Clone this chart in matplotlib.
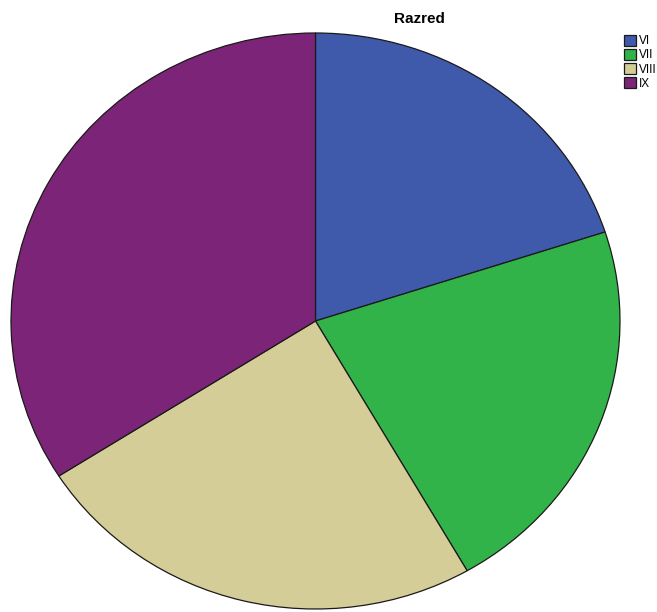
import matplotlib.pyplot as plt

# Razred - udio učenika po razredu
labels = ["VI", "VII", "VIII", "IX"]
counts = [47, 51, 57, 80]
colors = ["#3f59ab", "#31b34a", "#d5cd98", "#7b2478"]

fig = plt.figure(figsize=(6.57, 6.12), dpi=100)
W, H = 657, 612

# pie area (slightly squashed, like the export)
ax = fig.add_axes([11 / W, 3 / H, 609 / W, 576 / H])
wedges, _ = ax.pie(
    counts,
    colors=colors,
    startangle=90,
    counterclock=False,
    radius=1.0,
    wedgeprops=dict(edgecolor="#1a1a1a", linewidth=0.9),
)
ax.set_aspect("auto")
ax.set_xlim(-1.0, 1.0)
ax.set_ylim(-1.0, 1.0)
ax.axis("off")

fig.text(419 / W, 1 - 19 / H, "Razred", ha="center", va="center",
         fontsize=11, fontweight="bold", family="Liberation Sans")

leg = fig.legend(
    wedges, labels,
    loc="upper left",
    bbox_to_anchor=(624 / W, 1 - 35 / H),
    frameon=False,
    handlelength=1.0,
    handleheight=1.0,
    handletextpad=0.25,
    labelspacing=0.15,
    borderaxespad=0,
    borderpad=0,
    prop={"family": "Liberation Sans", "size": 8.5},
)

fig.savefig("out.png", dpi=100)
